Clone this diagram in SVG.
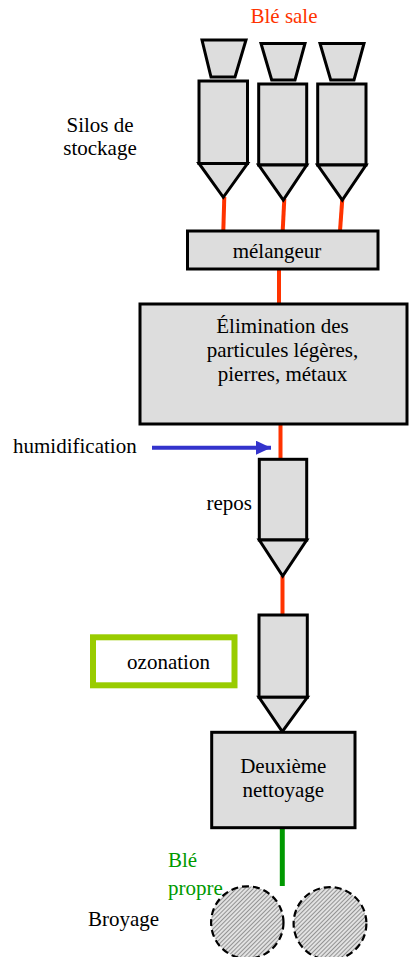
<svg xmlns="http://www.w3.org/2000/svg" width="409" height="957" viewBox="0 0 409 957">
<style>
.shape{fill:#DDDDDD;stroke:#000;stroke-width:3;stroke-linejoin:miter}
.t{font-family:"Liberation Serif","Times New Roman",serif;font-size:21px;fill:#000}
.m{text-anchor:middle}
.red{stroke:#FF3300;stroke-width:4;fill:none}
</style>
<defs>
<pattern id="hatch" patternUnits="userSpaceOnUse" width="3" height="3" patternTransform="rotate(45)">
<rect width="3" height="3" fill="#E2E2E2"/>
<line x1="0.5" y1="0" x2="0.5" y2="3" stroke="#8A8A8A" stroke-width="0.9"/>
</pattern>
<marker id="arrowBlue" markerUnits="userSpaceOnUse" markerWidth="16" markerHeight="16" refX="15" refY="7" orient="auto">
<path d="M0,0 L15,7 L0,14 Z" fill="#3333CC"/>
</marker>
</defs>
<rect width="409" height="957" fill="#fff"/>
<g id="connectors">
<line class="red" x1="224.3" y1="197" x2="223.3" y2="231"/>
<line class="red" x1="284.3" y1="199" x2="282.7" y2="231"/>
<line class="red" x1="342.3" y1="199" x2="340" y2="231"/>
<line class="red" x1="279" y1="269" x2="279" y2="304"/>
<line class="red" x1="280.5" y1="424" x2="280.5" y2="459"/>
<line class="red" x1="282.5" y1="576" x2="282.5" y2="615"/>
<line x1="282.3" y1="828" x2="282.3" y2="886" stroke="#009900" stroke-width="5"/>
<line x1="152" y1="447.7" x2="271" y2="447.7" stroke="#3333CC" stroke-width="4" marker-end="url(#arrowBlue)"/>
</g>
<g id="label-ble-sale"><text class="t m" x="284" y="23" fill="#FF3300" style="fill:#FF3300">Blé sale</text></g>
<g id="label-silos"><text class="t m" x="100" y="131.5">Silos de</text><text class="t m" x="100" y="155">stockage</text></g>
<g id="silo1">
<polygon class="shape" points="202,40 246,40 235,77 211,77"/>
<rect class="shape" x="199" y="81" width="48.5" height="82.5"/>
<polygon class="shape" points="199,163.5 247.5,163.5 223.3,197.3"/>
</g>
<g id="silo2">
<polygon class="shape" points="261,43.5 305,43.5 295,80 271.7,80"/>
<rect class="shape" x="258.7" y="84" width="48" height="81"/>
<polygon class="shape" points="258.7,165 306.7,165 283.3,200"/>
</g>
<g id="silo3">
<polygon class="shape" points="320,43.5 364,43.5 354,80 330.7,80"/>
<rect class="shape" x="317.7" y="84" width="48.3" height="81"/>
<polygon class="shape" points="317.7,165 366,165 342.3,200"/>
</g>
<g id="melangeur">
<rect class="shape" x="187.5" y="231" width="190.5" height="38"/>
<text class="t m" x="277" y="258">mélangeur</text>
</g>
<g id="elimination">
<rect class="shape" x="140" y="304" width="267" height="120"/>
<text class="t m" x="282.5" y="333">Élimination des</text>
<text class="t m" x="282.5" y="357">particules légères,</text>
<text class="t m" x="282.5" y="381">pierres, métaux</text>
</g>
<g id="humidification"><text class="t" x="13" y="453">humidification</text></g>
<g id="repos">
<rect class="shape" x="259.3" y="459.3" width="47.4" height="80.7"/>
<polygon class="shape" points="259.3,540 306.7,540 282.7,576"/>
<text class="t" x="252" y="510" text-anchor="end">repos</text>
</g>
<g id="ozonation">
<rect x="93" y="637.3" width="141.5" height="48" fill="#fff" stroke="#99CC00" stroke-width="6"/>
<text class="t m" x="168.5" y="669">ozonation</text>
</g>
<g id="silo4">
<rect class="shape" x="259" y="615" width="48.3" height="82.3"/>
<polygon class="shape" points="259,697.3 307.3,697.3 282.3,731.7"/>
</g>
<g id="deuxieme">
<rect class="shape" x="211.7" y="732.3" width="143.3" height="95.4"/>
<text class="t m" x="283.3" y="772.7">Deuxième</text>
<text class="t m" x="283.3" y="797.3">nettoyage</text>
</g>
<g id="ble-propre"><text class="t" x="168" y="866.5" style="fill:#009900">Blé</text><text class="t" x="168" y="895" style="fill:#009900">propre</text></g>
<g id="broyage">
<text class="t" x="88" y="926">Broyage</text>
<circle cx="247.3" cy="922.5" r="36.2" fill="url(#hatch)" stroke="#000" stroke-width="2.2" stroke-dasharray="7,4"/>
<circle cx="330" cy="923.5" r="36.4" fill="url(#hatch)" stroke="#000" stroke-width="2.2" stroke-dasharray="7,4"/>
</g>
</svg>
